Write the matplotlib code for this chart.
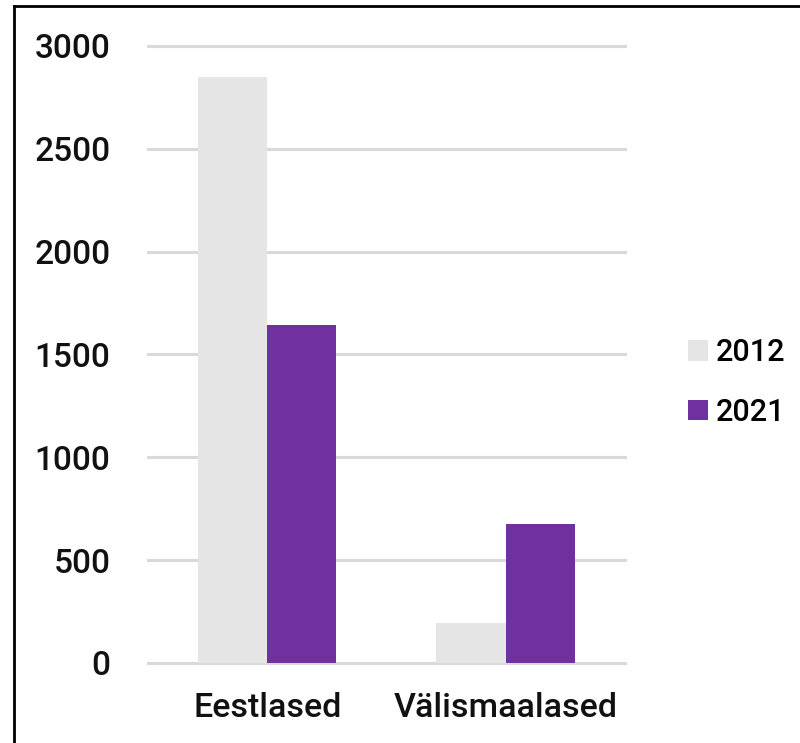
import numpy as np
import matplotlib.pyplot as plt
from matplotlib.lines import Line2D

categories = ['Eestlased', 'Välismaalased']
years = ['2012', '2021']
values_2012 = [2850, 195]
values_2021 = [1645, 678]
yticks = [0, 500, 1000, 1500, 2000, 2500, 3000]

colors = ['#e5e5e5', '#7030a0']

plt.rcParams['font.family'] = ['Roboto', 'DejaVu Sans']
plt.rcParams['font.weight'] = 'medium'

fig = plt.figure(figsize=(8, 7.43), dpi=100)
ax = fig.add_axes([0.185, 0.1077, 0.596, 0.8304])

x = np.arange(len(categories))
w = 0.29
ax.bar(x - w / 2, values_2012, w, color=colors[0], label=years[0], zorder=3)
ax.bar(x + w / 2, values_2021, w, color=colors[1], label=years[1], zorder=3)

ax.set_xlim(-0.5, 1.5)
ax.set_ylim(0, 3000)
ax.set_yticks(yticks)
ax.set_yticklabels([str(v) for v in yticks])
ax.set_xticks(x)
ax.set_xticklabels(categories)
ax.yaxis.grid(True, color='#d9d9d9', linewidth=2.2, zorder=0)
for gl in ax.get_ygridlines():
    gl.set_clip_on(False)
ax.set_axisbelow(True)
for s in ax.spines.values():
    s.set_visible(False)
ax.tick_params(axis='y', length=0, pad=27, labelsize=24, labelcolor='#111111')
ax.tick_params(axis='x', length=0, pad=21, labelsize=24.5, labelcolor='#111111')

leg = ax.legend(loc='center left', bbox_to_anchor=(0.86, 0.485), bbox_transform=fig.transFigure,
                frameon=False, fontsize=22, handlelength=0.65, handleheight=0.65,
                handletextpad=0.25, labelspacing=1.0, borderpad=0, borderaxespad=0)

# frame lines on top and left
fig.add_artist(Line2D([13.5 / 800, 13.5 / 800], [0, 1 - 6 / 743], color='black', linewidth=2))
fig.add_artist(Line2D([13.5 / 800, 1], [1 - 6 / 743, 1 - 6 / 743], color='black', linewidth=2))

fig.savefig('out.png', dpi=100)
